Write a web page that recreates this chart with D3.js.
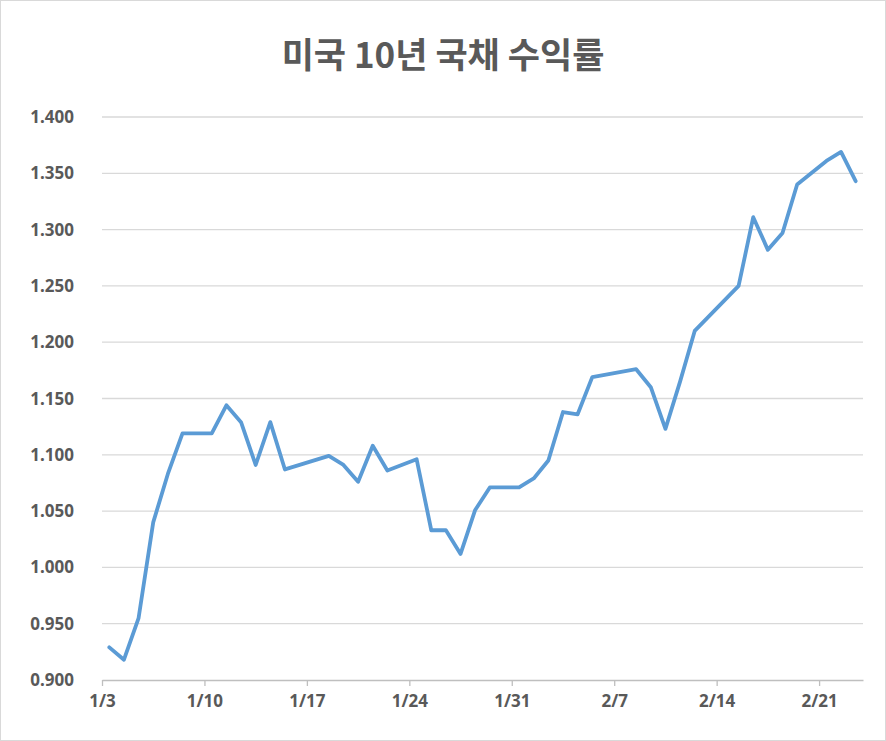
<!DOCTYPE html>
<html><head><meta charset="utf-8">
<script src="https://cdn.jsdelivr.net/npm/d3@7"></script>
<style>body{margin:0;background:#fff}</style></head>
<body><svg id="c" width="886" height="741"></svg>
<script>
const title = "미국 10년 국채 수익률";
const dates = ["1/3","1/4","1/5","1/6","1/7","1/8","1/10","1/11","1/12","1/13","1/14","1/15","1/18","1/19","1/20","1/21","1/22","1/24","1/25","1/26","1/27","1/28","1/29","1/31","2/1","2/2","2/3","2/4","2/5","2/8","2/9","2/10","2/11","2/12","2/15","2/16","2/17","2/18","2/19","2/21","2/22","2/23"];
const values = [0.929,0.918,0.955,1.040,1.083,1.119,1.119,1.144,1.129,1.091,1.129,1.087,1.099,1.091,1.076,1.108,1.086,1.096,1.033,1.033,1.012,1.051,1.071,1.071,1.079,1.095,1.138,1.136,1.169,1.176,1.160,1.123,1.165,1.210,1.250,1.311,1.282,1.297,1.340,1.361,1.369,1.343];
const xTicks = ["1/3","1/10","1/17","1/24","1/31","2/7","2/14","2/21"];
const yTicks = [0.9,0.95,1.0,1.05,1.1,1.15,1.2,1.25,1.3,1.35,1.4];

const pd = s => { const [m,d]=s.split("/").map(Number); return new Date(2021,m-1,d); };
const svg = d3.select("#c");
svg.append("rect").attr("x",0.5).attr("y",0.5).attr("width",885).attr("height",740).attr("fill","#fff").attr("stroke","#d9d9d9");
const x = d3.scaleTime().domain([pd("1/3"),pd("2/24")]).range([102,863]);
const y = d3.scaleLinear().domain([0.9,1.4]).range([680,117]);
const half = 12*3600*1000;

svg.append("text").attr("x",443).attr("y",68).attr("text-anchor","middle")
 .attr("font-family","'Noto Sans CJK KR',sans-serif").attr("font-weight","bold").attr("font-size",35).attr("fill","#595959").text(title);

svg.append("g").selectAll("line").data(yTicks.slice(1)).join("line")
 .attr("x1",102).attr("x2",863).attr("y1",d=>y(d)).attr("y2",d=>y(d)).attr("stroke","#d9d9d9").attr("stroke-width",1.3);

svg.append("g").selectAll("text").data(yTicks).join("text")
 .attr("x",74).attr("y",d=>y(d)+6).attr("text-anchor","end")
 .attr("font-family","'Noto Sans',sans-serif").attr("font-weight","bold").attr("font-size",17).attr("fill","#595959")
 .text(d=>d3.format(".3f")(d));

const xa = svg.append("g").attr("transform","translate(0,680)")
 .call(d3.axisBottom(x).tickValues(xTicks.map(pd)).tickFormat((d,i)=>xTicks[i]).tickSize(6).tickSizeOuter(0));
xa.select(".domain").attr("stroke","#bfbfbf").attr("stroke-width",1.3);
xa.selectAll(".tick line").attr("stroke","#bfbfbf").attr("stroke-width",1.3);
xa.selectAll("text").attr("font-family","'Noto Sans',sans-serif").attr("font-weight","bold").attr("font-size",17).attr("fill","#595959").attr("dy","1.05em");

const data = dates.map((d,i)=>({d:pd(d),v:values[i]}));
svg.append("path").datum(data).attr("fill","none").attr("stroke","#5b9bd5").attr("stroke-width",3.8)
 .attr("stroke-linejoin","round").attr("stroke-linecap","round")
 .attr("d",d3.line().x(p=>x(+p.d+half)).y(p=>y(p.v)));
</script></body></html>
